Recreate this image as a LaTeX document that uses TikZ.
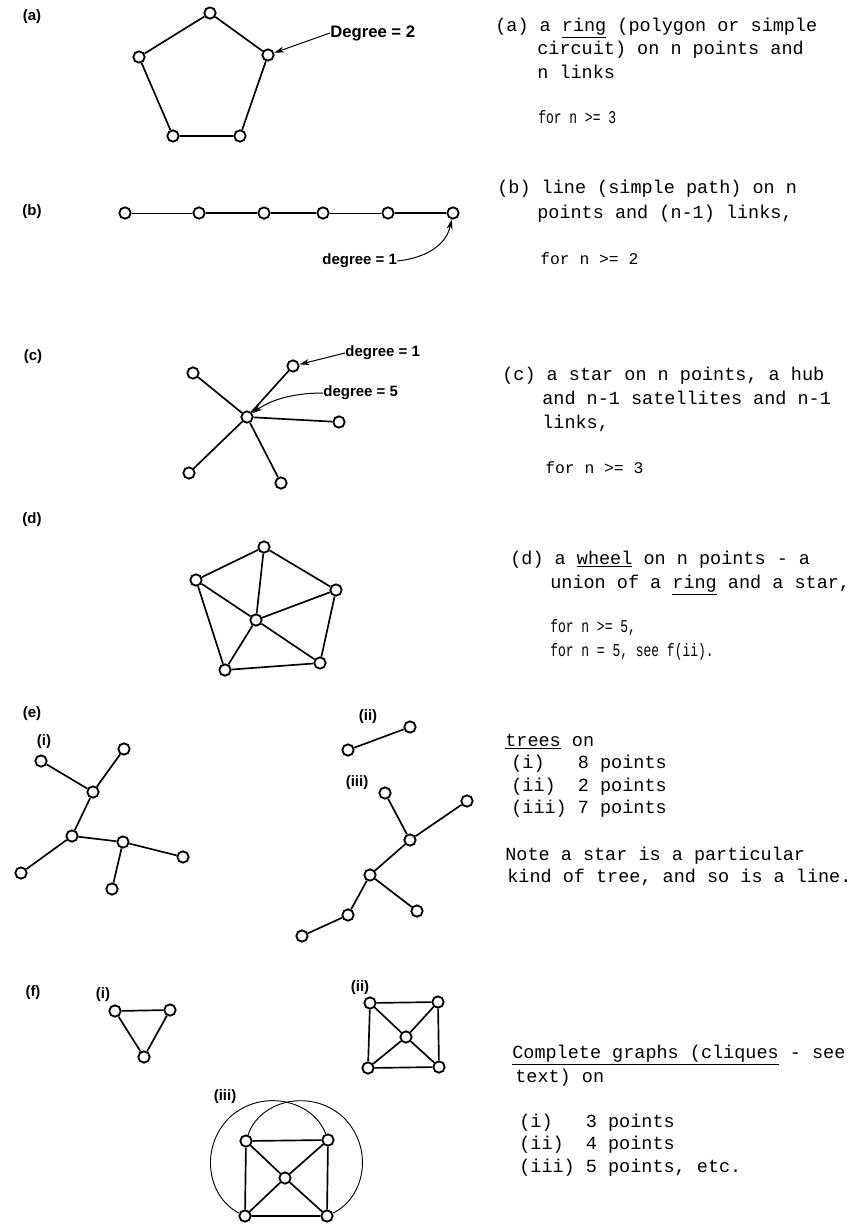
\documentclass[tikz,border=0pt]{standalone}
\usepackage{fontspec}
\setmainfont{Liberation Serif}
\newfontfamily\monofam{Liberation Mono}
\newfontfamily\labfam{Liberation Sans}
\usepackage{graphicx}
\usetikzlibrary{arrows.meta}
% narrow "for n >= ..." lines
\newcommand{\cond}[1]{\scalebox{0.72}[1]{#1}}

\begin{document}
\begin{tikzpicture}[x=0.6pt,y=-0.6pt,
  vtx/.style={circle,draw,fill=white,line width=1.1pt,minimum size=6.8pt,inner sep=0pt},
  edge/.style={line width=1pt},
  thinedge/.style={line width=0.55pt},
  lbl/.style={font=\labfam\bfseries\fontsize{9}{10}\selectfont,inner sep=0pt},
  arr/.style={-{Stealth[length=6pt,width=3.6pt]},line width=0.6pt},
  txt/.style={anchor=base west,inner sep=0pt,font=\monofam\fontsize{11.1}{13}\selectfont},
  smtxt/.style={txt,font=\monofam\fontsize{9.8}{12}\selectfont},
  cntxt/.style={txt,font=\monofam\fontsize{10.8}{12}\selectfont}]
  \useasboundingbox (0,0) rectangle (867,1226);

  % (a) ring
  \node[lbl] (la) at (32,17) {(a)};
  \node[vtx] (a1) at (210,13) {};
  \node[vtx] (a2) at (268,55) {};
  \node[vtx] (a3) at (240,136) {};
  \node[vtx] (a4) at (173,136) {};
  \node[vtx] (a5) at (139,57) {};
  \draw[edge] (a1)--(a2)--(a3)--(a4)--(a5)--(a1);
  \node[lbl,anchor=west,font=\labfam\bfseries\fontsize{10}{11}\selectfont] (dega) at (330,33) {Degree = 2};
  \draw[arr] (dega.west) -- (a2);

  % (b) line
  \node[lbl] (lb) at (32,212) {(b)};
  \foreach \i/\x in {1/125,2/199,3/264,4/323,5/388,6/453}
    \node[vtx] (b\i) at (\x,213) {};
  \draw[thinedge] (b1)--(b2);
  \draw[edge] (b2)--(b3)--(b4);
  \draw[thinedge] (b4)--(b5);
  \draw[edge] (b5)--(b6);
  \node[lbl,anchor=west] (degb) at (322,261) {degree = 1};
  \draw[arr] (degb.east) .. controls (425,258) and (446,246) .. (b6);

  % (c) star
  \node[lbl] (lc) at (33,357) {(c)};
  \node[vtx] (hub) at (247,417) {};
  \node[vtx] (c1) at (193,373) {};
  \node[vtx] (c2) at (293,366) {};
  \node[vtx] (c3) at (339,422) {};
  \node[vtx] (c4) at (281,483) {};
  \node[vtx] (c5) at (189,473) {};
  \foreach \i in {1,...,5} \draw[edge] (hub)--(c\i);
  \node[lbl,anchor=west] (degc1) at (345,353) {degree = 1};
  \draw[arr] (degc1.west) -- (c2);
  \node[lbl,anchor=west] (degc5) at (323,393) {degree = 5};
  \draw[arr] (degc5.west) .. controls (295,393) and (272,399) .. (hub);

  % (d) wheel
  \node[lbl] (ld) at (32,520) {(d)};
  \node[vtx] (w0) at (256,620) {};
  \node[vtx] (w1) at (264,547) {};
  \node[vtx] (w2) at (336,590) {};
  \node[vtx] (w3) at (320,663) {};
  \node[vtx] (w4) at (225,670) {};
  \node[vtx] (w5) at (196,580) {};
  \draw[edge] (w1)--(w2)--(w3)--(w4)--(w5)--(w1);
  \foreach \i in {1,...,5} \draw[edge] (w0)--(w\i);

  % (e) trees
  \node[lbl] (le) at (32,714) {(e)};
  \node[lbl] (lei) at (44,742) {(i)};
  \node[vtx] (e1) at (41,761) {};
  \node[vtx] (e2) at (124,749) {};
  \node[vtx] (e3) at (93,792) {};
  \node[vtx] (e4) at (72,836) {};
  \node[vtx] (e5) at (123,842) {};
  \node[vtx] (e6) at (183,857) {};
  \node[vtx] (e7) at (21,873) {};
  \node[vtx] (e8) at (112,889) {};
  \draw[edge] (e1)--(e3)--(e2);
  \draw[edge] (e3)--(e4)--(e5)--(e6);
  \draw[edge] (e5)--(e8);
  \draw[edge] (e4)--(e7);
  \node[lbl] (leii) at (368,717) {(ii)};
  \node[vtx] (f1) at (348,750) {};
  \node[vtx] (f2) at (410,727) {};
  \draw[edge] (f1)--(f2);
  \node[lbl] (leiii) at (357,783) {(iii)};
  \node[vtx] (g1) at (385,793) {};
  \node[vtx] (g2) at (467,801) {};
  \node[vtx] (g3) at (410,840) {};
  \node[vtx] (g4) at (370,875) {};
  \node[vtx] (g5) at (417,911) {};
  \node[vtx] (g6) at (348,915) {};
  \node[vtx] (g7) at (302,936) {};
  \draw[edge] (g1)--(g3)--(g2);
  \draw[edge] (g3)--(g4)--(g5);
  \draw[edge] (g4)--(g6)--(g7);

  % (f) complete graphs
  \node[lbl] (lf) at (33,993) {(f)};
  \node[lbl] (lfi) at (103,995) {(i)};
  \node[vtx] (k1) at (115,1011) {};
  \node[vtx] (k2) at (170,1010) {};
  \node[vtx] (k3) at (144,1057) {};
  \draw[edge] (k1)--(k2)--(k3)--(k1);
  \node[lbl] (lfii) at (360,988) {(ii)};
  \node[vtx] (q1) at (370,1003) {};
  \node[vtx] (q2) at (438,1002) {};
  \node[vtx] (q3) at (439,1067) {};
  \node[vtx] (q4) at (368,1068) {};
  \node[vtx] (q0) at (406,1037) {};
  \draw[edge] (q1)--(q2)--(q3)--(q4)--(q1);
  \foreach \i in {1,...,4} \draw[edge] (q0)--(q\i);
  \node[lbl] (lfiii) at (225,1097) {(iii)};
  \node[vtx] (r1) at (246,1141) {};
  \node[vtx] (r2) at (328,1140) {};
  \node[vtx] (r3) at (327,1216) {};
  \node[vtx] (r4) at (245,1216) {};
  \node[vtx] (r0) at (285,1178) {};
  \draw[edge] (r1)--(r2)--(r3)--(r4)--(r1);
  \foreach \i in {1,...,4} \draw[edge] (r0)--(r\i);
  \draw[thinedge] (r4) .. controls (207,1197) and (199,1147) .. (230,1117)
    .. controls (262,1088) and (313,1100) .. (r2);
  \draw[thinedge] (r3) .. controls (366,1197) and (374,1147) .. (343,1117)
    .. controls (311,1088) and (260,1100) .. (r1);

  % right-hand texts
  \node[txt] (ta1) at (495,31) {(a) a \underline{ring} (polygon or simple};
  \node[txt] (ta2) at (537,54) {circuit) on n points and};
  \node[txt] (ta3) at (537,78) {n links};
  \node[cntxt] (ta4) at (538,123) {\cond{for n >= 3}};
  \node[txt] (tb1) at (497,193) {(b) line (simple path) on n};
  \node[txt] (tb2) at (537,218) {points and (n-1) links,};
  \node[smtxt] (tb3) at (540,264) {for n >= 2};
  \node[txt] (tc1) at (502,380) {(c) a star on n points, a hub};
  \node[txt] (tc2) at (542,404) {and n-1 satellites and n-1};
  \node[txt] (tc3) at (542,428) {links,};
  \node[smtxt] (tc4) at (545,473) {for n >= 3};
  \node[txt] (td1) at (510,564) {(d) a \underline{wheel} on n points - a};
  \node[txt] (td2) at (550,588) {union of a \underline{ring} and a star,};
  \node[cntxt] (td3) at (550,632) {\cond{for n >= 5,}};
  \node[cntxt] (td4) at (550,656) {\cond{for n = 5, see f(ii).}};
  \node[txt] (te1) at (505,746) {\underline{trees} on};
  \node[txt] (te2) at (511,768) {(i)\ \ \ 8 points};
  \node[txt] (te3) at (511,791) {(ii)\ \ 2 points};
  \node[txt] (te4) at (511,813) {(iii) 7 points};
  \node[txt] (te5) at (505,860) {Note a star is a particular};
  \node[txt] (te6) at (507,882) {kind of tree, and so is a line.};
  \node[txt] (tf1) at (512,1058) {\underline{Complete graphs (cliques} - see};
  \node[txt] (tf2) at (515,1082) {text) on};
  \node[txt] (tf3) at (519,1127) {(i)\ \ \ 3 points};
  \node[txt] (tf4) at (519,1149) {(ii)\ \ 4 points};
  \node[txt] (tf5) at (519,1172) {(iii) 5 points, etc.};
\end{tikzpicture}
\end{document}
